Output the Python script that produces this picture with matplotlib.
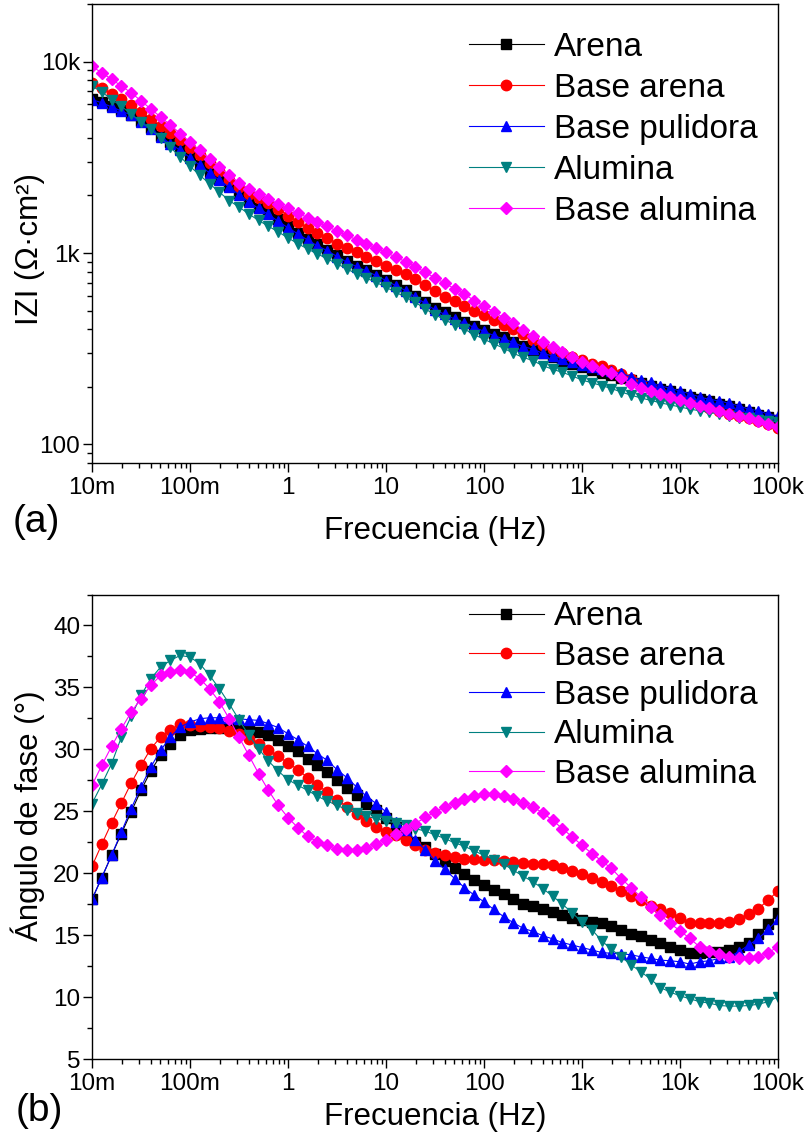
import numpy as np
import matplotlib
matplotlib.use('Agg')
import matplotlib.pyplot as plt
from matplotlib.ticker import FixedLocator, LogLocator, MultipleLocator, NullFormatter

plt.rcParams['font.family'] = ['Liberation Sans', 'DejaVu Sans']

# 10 points per decade, 10 mHz .. 100 kHz
freq = np.logspace(-2, 5, 71)

# |Z| (ohm cm2)
arena_z = [6400, 6150, 5850, 5560, 5280, 4900, 4520, 4100, 3780, 3480,
           3180, 2900, 2650, 2430, 2240, 2050, 1880, 1720, 1620, 1500,
           1380, 1280, 1190, 1110, 1040, 975, 912, 860, 812, 768,
           722, 680, 640, 598, 555, 515, 490, 462, 434, 417,
           396, 378, 363, 345, 328, 311, 299, 285, 273, 263,
           254, 245, 237, 230, 223, 216, 209, 202, 196, 190,
           184, 178, 173, 168, 163, 158, 153, 148, 143, 139, 134]
base_arena_z = [7690, 7250, 6800, 6350, 5910, 5460, 5040, 4620, 4240, 3880,
                3550, 3240, 2950, 2680, 2420, 2200, 2040, 1930, 1830, 1700,
                1570, 1450, 1350, 1270, 1200, 1120, 1060, 1010, 959, 907,
                860, 817, 779, 730, 680, 630, 588, 560, 531, 500,
                477, 447, 422, 401, 377, 351, 332, 315, 299, 285,
                276, 264, 256, 246, 234, 220, 207, 197, 188, 180,
                173, 166, 160, 155, 150, 145, 141, 137, 133, 128, 122]
base_pulidora_z = [6340, 6090, 5800, 5520, 5250, 4840, 4470, 4040, 3730, 3440,
                   3150, 2870, 2620, 2400, 2210, 2020, 1850, 1710, 1590, 1465,
                   1355, 1260, 1170, 1090, 1030, 959, 896, 850, 804, 763,
                   718, 676, 637, 590, 545, 505, 478, 452, 429, 409,
                   390, 370, 356, 341, 324, 315, 299, 290, 279, 271,
                   261, 254, 248, 242, 235, 226, 217, 211, 202, 197,
                   190, 184, 177, 172, 169, 164, 159, 153, 150, 144, 141]
alumina_z = [7450, 6950, 6340, 5850, 5310, 4840, 4420, 4010, 3560, 3180,
             2840, 2550, 2300, 2080, 1880, 1740, 1600, 1480, 1380, 1290,
             1200, 1120, 1050, 990, 933, 878, 826, 778, 738, 703,
             662, 624, 588, 553, 510, 477, 447, 423, 401, 374,
             355, 335, 319, 299, 285, 274, 258, 247, 238, 228,
             217, 210, 203, 196, 188, 181, 175, 170, 165, 161,
             157, 153, 150, 147, 144, 141, 138, 137, 135, 133, 131]
base_alumina_z = [9460, 8730, 8090, 7460, 6870, 6240, 5660, 5140, 4670, 4210,
                  3800, 3440, 3110, 2810, 2550, 2330, 2170, 2040, 1920, 1810,
                  1710, 1620, 1530, 1450, 1380, 1300, 1240, 1170, 1120, 1060,
                  1010, 950, 902, 849, 793, 741, 695, 651, 612, 564,
                  527, 494, 458, 430, 396, 367, 341, 321, 303, 285,
                  271, 258, 245, 236, 222, 208, 197, 190, 183, 176,
                  170, 165, 159, 155, 149, 144, 141, 137, 132, 128, 124]

# phase angle (deg)
arena_ph = [17.9, 19.65, 21.45, 23.2, 24.95, 26.69, 28.25, 29.52, 30.4, 31.13,
            31.53, 31.67, 31.75, 31.75, 31.75, 31.67, 31.6, 31.4, 31.13, 30.78,
            30.24, 29.87, 29.25, 28.71, 28.17, 27.5, 26.91, 26.29, 25.62, 25.08,
            24.49, 23.74, 23.2, 22.53, 22.1, 21.59, 20.99, 20.46, 19.97, 19.49,
            19.03, 18.68, 18.36, 17.88, 17.55, 17.34, 17.15, 16.88, 16.61, 16.42,
            16.21, 16.08, 15.94, 15.73, 15.4, 15.13, 14.92, 14.6, 14.33, 14.06,
            13.84, 13.55, 13.57, 13.66, 13.66, 13.79, 14.06, 14.38, 15.08, 15.89, 16.75]
base_arena_ph = [20.56, 22.34, 24.06, 25.67, 27.28, 28.71, 30.05, 30.99, 31.59, 32.02,
                 31.94, 31.85, 31.8, 31.7, 31.5, 31.2, 30.85, 30.46, 29.97, 29.44,
                 28.9, 28.36, 27.72, 27.1, 26.56, 25.94, 25.35, 24.76, 24.22, 23.74,
                 23.33, 23.06, 22.66, 22.25, 21.85, 21.64, 21.45, 21.32, 21.18, 21.18,
                 21.1, 21.05, 20.99, 20.91, 20.83, 20.78, 20.78, 20.65, 20.38, 20.19,
                 19.92, 19.65, 19.26, 18.95, 18.58, 18.15, 17.82, 17.34, 17.15, 16.8,
                 16.35, 15.95, 16.0, 16.0, 15.99, 16.08, 16.34, 16.69, 17.15, 17.82, 18.58]
base_pulidora_ph = [17.88, 19.65, 21.45, 23.33, 25.22, 26.96, 28.57, 29.92, 30.99, 31.8,
                    32.2, 32.47, 32.55, 32.55, 32.55, 32.47, 32.39, 32.34, 32.07, 31.75,
                    31.26, 30.78, 30.24, 29.65, 29.11, 28.36, 27.72, 26.96, 26.21, 25.62,
                    24.95, 24.14, 23.47, 22.66, 21.9, 21.02, 20.3, 19.57, 18.84, 18.23,
                    17.69, 17.07, 16.5, 16.0, 15.55, 15.3, 14.95, 14.7, 14.4, 14.2,
                    14.0, 13.8, 13.6, 13.53, 13.49, 13.42, 13.25, 13.12, 12.98, 12.93,
                    12.85, 12.66, 12.85, 12.93, 13.12, 13.25, 13.66, 14.19, 14.73, 15.46, 16.27]
alumina_ph = [25.62, 27.18, 28.84, 30.99, 32.66, 34.35, 35.7, 36.64, 37.18, 37.58,
              37.45, 36.91, 35.97, 34.89, 33.68, 32.39, 31.13, 30.05, 29.06, 28.25,
              27.55, 27.1, 26.69, 26.21, 25.83, 25.48, 25.13, 24.87, 24.6, 24.41,
              24.22, 24.06, 23.87, 23.6, 23.4, 23.1, 22.8, 22.45, 22.18, 21.8,
              21.45, 21.1, 20.73, 20.24, 19.76, 19.3, 18.76, 18.15, 17.5, 16.8,
              16.05, 15.45, 14.55, 13.85, 13.25, 12.6, 12.05, 11.45, 10.77, 10.4,
              10.1, 9.86, 9.63, 9.51, 9.32, 9.27, 9.27, 9.32, 9.42, 9.63, 10.02]
base_alumina_ph = [27.1, 28.71, 30.24, 31.67, 33.01, 34.09, 35.16, 35.97, 36.24, 36.37,
                   36.24, 35.7, 34.89, 33.82, 32.47, 30.99, 29.52, 28.04, 26.69, 25.48,
                   24.49, 23.68, 22.98, 22.53, 22.26, 21.99, 21.91, 21.91, 22.07, 22.34,
                   22.72, 23.15, 23.6, 24.01, 24.5, 24.95, 25.35, 25.67, 26.02, 26.21,
                   26.37, 26.37, 26.21, 26.02, 25.67, 25.35, 24.87, 24.27, 23.6, 22.93,
                   22.26, 21.59, 21.0, 20.38, 19.57, 18.84, 18.09, 17.29, 16.61, 15.94,
                   15.35, 14.73, 14.06, 13.74, 13.47, 13.25, 13.12, 13.12, 13.25, 13.58, 14.06]

names = ['Arena', 'Base arena', 'Base pulidora', 'Alumina', 'Base alumina']
colors = ['black', '#ff0000', '#0000ff', '#008080', '#ff00ff']
markers = ['s', 'o', '^', 'v', 'D']
msizes = [6.5, 7.5, 7.5, 7.5, 6.5]
z_data = [arena_z, base_arena_z, base_pulidora_z, alumina_z, base_alumina_z]
ph_data = [arena_ph, base_arena_ph, base_pulidora_ph, alumina_ph, base_alumina_ph]

xticks = [1e-2, 1e-1, 1, 10, 100, 1e3, 1e4, 1e5]
xticklabels = ['10m', '100m', '1', '10', '100', '1k', '10k', '100k']

fig = plt.figure(figsize=(8.09, 11.39), dpi=100)
W, H = 809., 1139.
ax1 = fig.add_axes([92/W, 1-463/H, 686/W, 459/H])
ax2 = fig.add_axes([92/W, 1-1059/H, 686/W, 464.5/H])

for i in range(5):
    ax1.plot(freq, z_data[i], color=colors[i], marker=markers[i], ms=msizes[i],
             mec=colors[i], lw=0.8, label=names[i])
    ax2.plot(freq, ph_data[i], color=colors[i], marker=markers[i], ms=msizes[i],
             mec=colors[i], lw=0.8, label=names[i])

for ax in (ax1, ax2):
    ax.set_xscale('log')
    ax.set_xlim(1e-2, 1e5)
    ax.xaxis.set_major_locator(FixedLocator(xticks))
    ax.set_xticklabels(xticklabels)
    ax.xaxis.set_minor_locator(LogLocator(base=10, subs=np.arange(2, 10)))
    ax.xaxis.set_minor_formatter(NullFormatter())
    ax.tick_params(which='both', direction='out', top=False, right=False,
                   labelsize=17.5, width=1)
    ax.tick_params(which='major', length=6.5, pad=2)
    ax.tick_params(which='minor', length=3.5)
    ax.tick_params(axis='x', which='major', pad=3.5)
    for s in ax.spines.values():
        s.set_linewidth(1)
    ax.set_xlabel('Frecuencia (Hz)', fontsize=22.5)

ax1.xaxis.set_label_coords(0.5, -0.115)
ax2.xaxis.set_label_coords(0.5, -0.093)

ax1.legend(loc='upper left', bbox_to_anchor=(0.52, 0.983), frameon=False,
           fontsize=24, handlelength=2.25, handletextpad=0.3,
           labelspacing=0.3, numpoints=1, borderaxespad=0.2)
ax2.legend(loc='upper left', bbox_to_anchor=(0.52, 1.028), frameon=False,
           fontsize=24, handlelength=2.25, handletextpad=0.3,
           labelspacing=0.25, numpoints=1, borderaxespad=0.2)

ax1.set_yscale('log')
ax1.set_ylim(80, 20000)
ax1.yaxis.set_major_locator(FixedLocator([100, 1000, 10000]))
ax1.set_yticklabels(['100', '1k', '10k'])
ax1.yaxis.set_minor_locator(LogLocator(base=10, subs=np.arange(2, 10)))
ax1.yaxis.set_minor_formatter(NullFormatter())
ax1.set_ylabel('IZI (Ω·cm²)', fontsize=22.5)
ax1.yaxis.set_label_coords(-0.068, 0.466)

ax2.set_ylim(5, 42.5)
ax2.yaxis.set_major_locator(MultipleLocator(5))
ax2.yaxis.set_minor_locator(MultipleLocator(2.5))
ax2.set_ylabel('Ángulo de fase (°)', fontsize=22.5)
ax2.yaxis.set_label_coords(-0.068, 0.524)

fig.text(13/W, 1-522/H, '(a)', fontsize=28, va='center', ha='left')
fig.text(16/W, 1-1111/H, '(b)', fontsize=28, va='center', ha='left')

fig.savefig('out.png', dpi=100)
